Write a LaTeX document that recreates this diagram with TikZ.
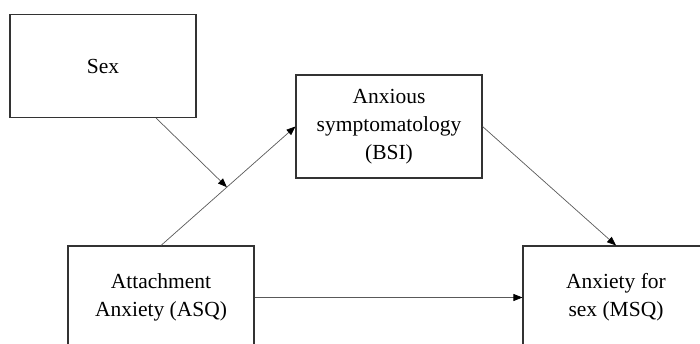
\documentclass[tikz,border=0pt]{standalone}
\usepackage{fontspec}
\setmainfont{Liberation Serif}
\usetikzlibrary{arrows.meta}
\begin{document}
\begin{tikzpicture}[x=1pt,y=-1pt]
\tikzstyle{every node}+=[font=\fontsize{21.5}{28}\selectfont]
\tikzstyle{var}=[draw=black!80,line width=1.1pt,minimum width=186pt,minimum height=103pt,align=center,inner sep=0pt]
\tikzstyle{path}=[draw=black!65,line width=0.7pt,-{Triangle[length=9pt,width=7pt,fill=black,color=black]}]
\useasboundingbox (0,0) rectangle (700,343);
% boxes
\node [var] (sex) at (103,66) {Sex};
\node [var] (bsi) at (389,126.5) {Anxious\\symptomatology\\(BSI)};
\node [var] (asq) at (161,297.5) {Attachment\\Anxiety (ASQ)};
\node [var] (msq) at (616,297.5) {Anxiety for\\sex (MSQ)};
% paths
\draw [path] (asq.north) -- (bsi.west) coordinate [pos=0.49] (mid);
\draw [path] (sex) -- (mid);
\draw [path] (bsi.east) -- (msq.north);
\draw [path] (asq.east) -- (msq.west);
\end{tikzpicture}
\end{document}
